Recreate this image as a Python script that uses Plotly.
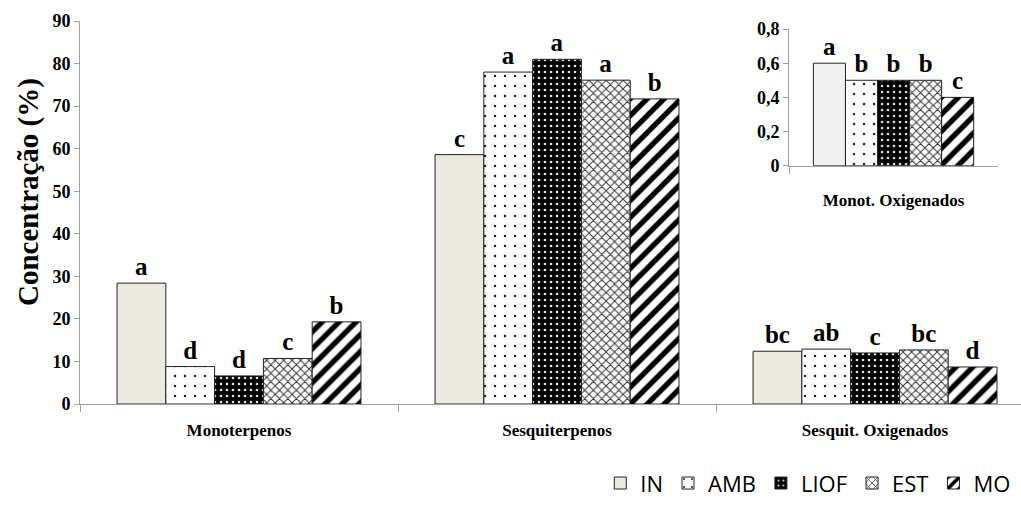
import plotly.graph_objects as go

categories = ["Monoterpenos", "Sesquiterpenos", "Sesquit. Oxigenados"]
series_names = ["IN", "AMB", "LIOF", "EST", "MO"]
in_vals = [28.4, 58.6, 12.4]
amb_vals = [8.8, 78.0, 12.9]
liof_vals = [6.6, 81.0, 12.0]
est_vals = [10.7, 76.1, 12.7]
mo_vals = [19.3, 71.7, 8.7]
in_letters = ["a", "c", "bc"]
amb_letters = ["d", "a", "ab"]
liof_letters = ["d", "a", "c"]
est_letters = ["c", "a", "bc"]
mo_letters = ["b", "b", "d"]

inset_category = ["Monot. Oxigenados"]
inset_vals = [0.6, 0.5, 0.5, 0.5, 0.4]
inset_letters = ["a", "b", "b", "b", "c"]

main_vals = [in_vals, amb_vals, liof_vals, est_vals, mo_vals]
main_letters = [in_letters, amb_letters, liof_letters, est_letters, mo_letters]

SERIF = "Liberation Serif, Times New Roman, serif"

def style(i, inset=False):
    edge = dict(color="#222222", width=1)
    if i == 0:
        return dict(color="#f0f0f0" if inset else "#ece9df", line=edge)
    if i == 1:
        return dict(color="white", line=edge,
                    pattern=dict(shape=".", fgcolor="#222222", bgcolor="white",
                                 size=10, solidity=0.05, fillmode="replace"))
    if i == 2:
        return dict(color="black", line=edge,
                    pattern=dict(shape=".", fgcolor="#e0e0e0", bgcolor="black",
                                 size=6, solidity=0.15, fillmode="replace"))
    if i == 3:
        return dict(color="white", line=edge,
                    pattern=dict(shape="x", fgcolor="#333333", bgcolor="white",
                                 size=6, solidity=0.3, fillmode="replace"))
    return dict(color="white", line=edge,
                pattern=dict(shape="/", fgcolor="black", bgcolor="white",
                             size=12, solidity=0.45, fillmode="replace"))

fig = go.Figure()
for i, name in enumerate(series_names):
    fig.add_trace(go.Bar(
        x=categories, y=main_vals[i], name=name, marker=style(i),
        text=main_letters[i], textposition="outside", constraintext="none",
        textfont=dict(family=SERIF, size=25, color="black", weight="bold"),
        cliponaxis=False, xaxis="x", yaxis="y", showlegend=True,
        hoverinfo="skip"))
for i, name in enumerate(series_names):
    fig.add_trace(go.Bar(
        x=inset_category, y=[inset_vals[i]], name=name, marker=style(i, True),
        text=[inset_letters[i]], textposition="outside", constraintext="none",
        textfont=dict(family=SERIF, size=25, color="black", weight="bold"),
        cliponaxis=False, xaxis="x2", yaxis="y2", showlegend=False,
        hoverinfo="skip"))

tickfont = dict(family=SERIF, size=18, color="black", weight="bold")
catfont = dict(family=SERIF, size=17, color="black", weight="bold")
axcol = "#a0a0a0"

fig.update_layout(
    width=1021, height=506,
    margin=dict(l=80, r=0, t=21, b=102, autoexpand=False),
    paper_bgcolor="white", plot_bgcolor="rgba(0,0,0,0)",
    barmode="group", bargap=0.233, bargroupgap=0,
    separators=",.",
    xaxis=dict(domain=[0, 1], range=[-0.5, 2.459], showline=True, linecolor=axcol,
               linewidth=1, ticks="outside", tickson="boundaries", ticklen=7,
               tickcolor=axcol, tickfont=catfont, ticklabelstandoff=11,
               showgrid=False, zeroline=False, fixedrange=True),
    yaxis=dict(domain=[0, 1], range=[0, 90], dtick=10, showline=True, linecolor=axcol,
               linewidth=1, ticks="outside", ticklen=5, tickcolor=axcol,
               tickfont=tickfont, showgrid=False, zeroline=False),
    xaxis2=dict(domain=[0.7535, 0.9756], anchor="y2", range=[-0.5, 0.5],
                showline=True, linecolor=axcol, linewidth=1, ticks="outside",
                tickson="boundaries", ticklen=7, tickcolor=axcol,
                tickfont=catfont, ticklabelstandoff=19, showgrid=False,
                zeroline=False),
    yaxis2=dict(domain=[0.6222, 0.979], anchor="x2", range=[0, 0.8], dtick=0.2,
                showline=True, linecolor=axcol, linewidth=1, ticks="outside",
                ticklen=5, tickcolor=axcol, tickfont=tickfont, showgrid=False,
                zeroline=False),
    legend=dict(orientation="h", x=0.995, xanchor="right", yref="container",
                y=0.045, yanchor="middle",
                font=dict(family="Open Sans", size=22, color="black"),
                itemwidth=30, tracegroupgap=0, bgcolor="rgba(0,0,0,0)"),
    annotations=[dict(text="Concentração (%)", xref="paper", yref="paper",
                      x=-0.0553, y=0.5535, xanchor="center", yanchor="middle",
                      textangle=-90, showarrow=False,
                      font=dict(family=SERIF, size=29, color="black", weight="bold"))],
)

fig.write_html("out.html")
